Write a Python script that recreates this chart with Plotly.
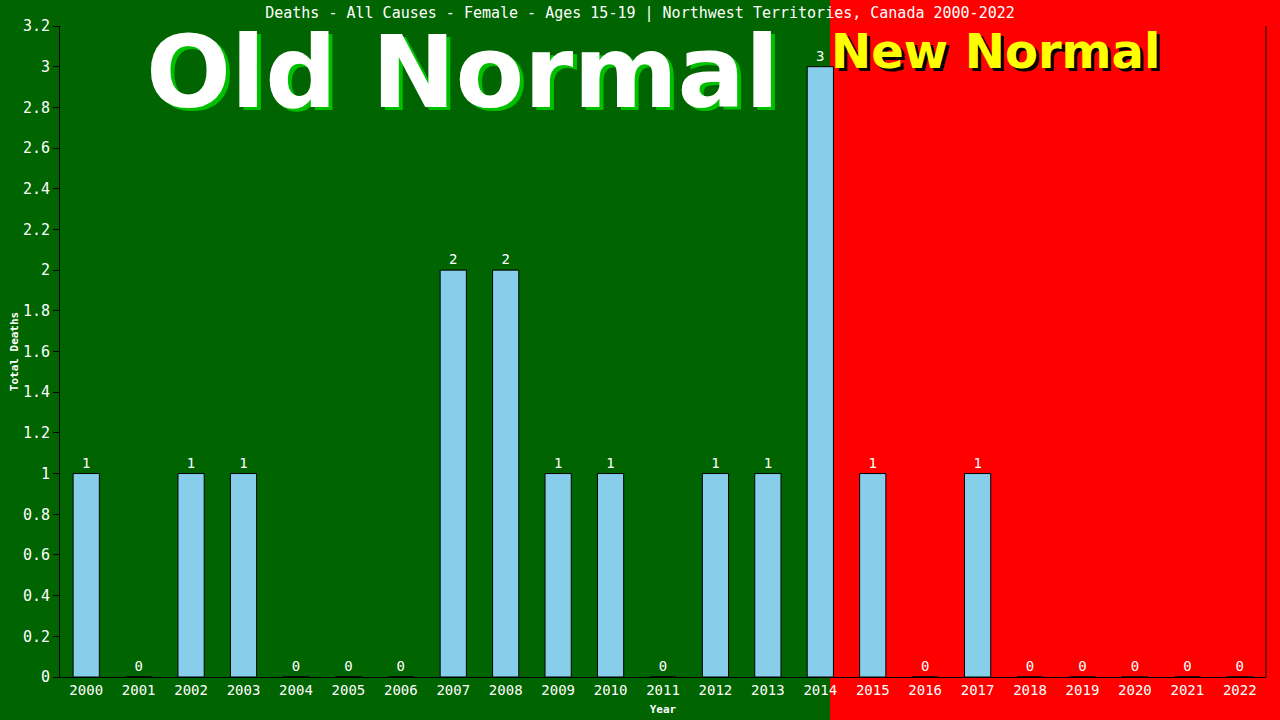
import plotly.graph_objects as go

years = [str(y) for y in range(2000, 2023)]
deaths = [1, 0, 1, 1, 0, 0, 0, 2, 2, 1, 1, 0, 1, 1, 3, 1, 0, 1, 0, 0, 0, 0, 0]
y_ticks = [round(i * 0.2, 1) for i in range(17)]
y_tick_labels = ["0" if v == 0 else ("%g" % v) for v in y_ticks]

title_text = "Deaths - All Causes - Female - Ages 15-19 | Northwest Territories, Canada 2000-2022"
split_index = 14.69  # boundary between Old Normal / New Normal in category units

mono = "DejaVu Sans Mono"
fig = go.Figure()
fig.add_trace(go.Bar(
    x=years, y=deaths,
    marker=dict(color="#87CEEB", line=dict(color="#000000", width=1)),
    text=[str(v) for v in deaths],
    textposition="outside",
    textfont=dict(family=mono, size=14, color="white"),
    cliponaxis=False,
    width=0.5,
))

n = len(years)
split_paper = split_index / n
shapes = [
    dict(type="rect", xref="paper", yref="paper", x0=-0.2, x1=split_paper, y0=-0.2, y1=1.2,
         fillcolor="#006400", line=dict(width=0), layer="below"),
    dict(type="rect", xref="paper", yref="paper", x0=split_paper, x1=1.2, y0=-0.2, y1=1.2,
         fillcolor="#FF0000", line=dict(width=0), layer="below"),
    dict(type="line", xref="paper", yref="paper", x0=1, x1=1, y0=0, y1=1,
         line=dict(color="black", width=1)),
]

annotations = [
    dict(text="Old Normal", xref="paper", yref="paper", x=(462 - 60) / 1206 + 0.004, y=1 - (73 - 26) / 651 - 0.004,
         showarrow=False, xanchor="center", yanchor="middle",
         font=dict(family="DejaVu Sans", size=100, color="#00C000", weight="bold")),
    dict(text="Old Normal", xref="paper", yref="paper", x=(462 - 60) / 1206, y=1 - (73 - 26) / 651,
         showarrow=False, xanchor="center", yanchor="middle",
         font=dict(family="DejaVu Sans", size=100, color="white", weight="bold")),
    dict(text="New Normal", xref="paper", yref="paper", x=(995 - 60) / 1206 + 0.0025, y=1 - (51 - 26) / 651 - 0.004,
         showarrow=False, xanchor="center", yanchor="middle",
         font=dict(family="DejaVu Sans", size=48, color="black", weight="bold")),
    dict(text="New Normal", xref="paper", yref="paper", x=(995 - 60) / 1206, y=1 - (51 - 26) / 651,
         showarrow=False, xanchor="center", yanchor="middle",
         font=dict(family="DejaVu Sans", size=48, color="#FFFF00", weight="bold")),
]

fig.update_layout(
    width=1280, height=720,
    margin=dict(l=60, r=14, t=26, b=43),
    paper_bgcolor="#FF0000",
    plot_bgcolor="rgba(0,0,0,0)",
    showlegend=False,
    bargap=0.5,
    title=dict(text=title_text, x=0.5, xanchor="center", y=1 - 13 / 720, yanchor="middle",
               font=dict(family=mono, size=15, color="white")),
    shapes=shapes,
    annotations=annotations,
    xaxis=dict(
        type="category", automargin=False,
        showgrid=False, showline=True, linecolor="black", linewidth=1,
        ticks="", tickfont=dict(family=mono, size=14, color="white"),
        title=dict(text="<b>Year</b>", font=dict(family=mono, size=11, color="white"), standoff=8),
    ),
    yaxis=dict(
        range=[0, 3.2], tickvals=y_ticks, ticktext=y_tick_labels, automargin=False,
        showgrid=False, zeroline=False, showline=True, linecolor="black", linewidth=1,
        ticks="outside", ticklen=6, tickcolor="black",
        tickfont=dict(family=mono, size=15, color="white"),
        title=dict(text="<b>Total Deaths</b>", font=dict(family=mono, size=11, color="white"), standoff=2),
    ),
)

fig.write_html(
    "out.html",
    config={"displayModeBar": False},
    post_script="document.body.style.margin='0';document.body.style.overflow='hidden';",
)
